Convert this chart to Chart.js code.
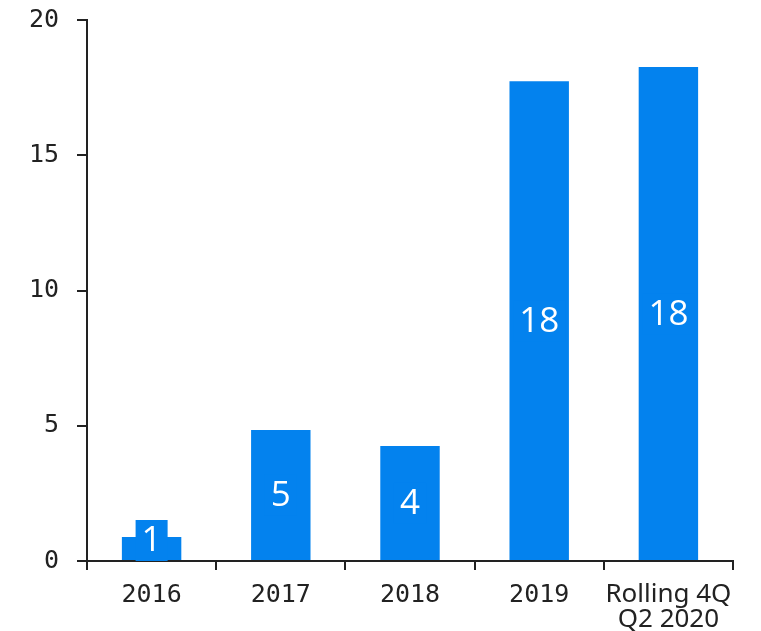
<!DOCTYPE html>
<html><head><meta charset="utf-8">
<script src="https://cdn.jsdelivr.net/npm/chart.js@4/dist/chart.umd.min.js"></script>
<style>html,body{margin:0;padding:0;background:#fff}#wrap{width:761px;height:631px}</style>
</head><body><div id="wrap"><canvas id="c" width="761" height="631"></canvas></div>
<script>
const categories = ["2016", "2017", "2018", "2019", ["Rolling 4Q", "Q2 2020"]];
const values = [0.89, 4.84, 4.25, 17.74, 18.26];
const yTicks = [0, 5, 10, 15, 20];

const BLUE = '#0382EE';
const INK = '#222222';
const MONO = '"DejaVu Sans Mono", monospace';

const labelPlugin = {
  id: 'barLabels',
  afterDatasetsDraw(chart) {
    const ctx = chart.ctx;
    const meta = chart.getDatasetMeta(0);
    const area = chart.chartArea;
    ctx.save();
    ctx.font = '35px "Open Sans", sans-serif';
    ctx.textAlign = 'center';
    ctx.textBaseline = 'middle';
    meta.data.forEach((bar, i) => {
      const txt = String(Math.round(values[i]));
      const w = ctx.measureText(txt).width + 12;
      const h = 41;
      let cy = (bar.y + bar.base) / 2;
      if (cy + h / 2 > area.bottom) cy = area.bottom - h / 2;
      ctx.fillStyle = BLUE;
      ctx.fillRect(bar.x - w / 2, cy - h / 2, w, h);
      ctx.fillStyle = '#ffffff';
      ctx.fillText(txt, bar.x, cy + 1);
    });
    ctx.restore();
  }
};

new Chart(document.getElementById('c'), {
  type: 'bar',
  data: {
    labels: categories,
    datasets: [{ data: values, backgroundColor: BLUE, borderWidth: 0,
      barPercentage: 0.46, categoryPercentage: 1 }]
  },
  options: {
    responsive: false,
    animation: false,
    layout: { padding: { top: 20, right: 28, left: 0, bottom: 0 } },
    plugins: { legend: { display: false }, tooltip: { enabled: false } },
    scales: {
      x: {
        grid: { display: true, drawOnChartArea: false, drawTicks: true, tickLength: 9,
          offset: true, color: INK, lineWidth: 2 },
        border: { display: true, color: INK, width: 2 },
        ticks: { color: INK,
          font: (c) => (c.index === 4
            ? { family: '"Noto Sans", sans-serif', size: 26, lineHeight: 0.97 }
            : { family: MONO, size: 25, lineHeight: 1.05 }),
          padding: 12, maxRotation: 0, autoSkip: false },
        afterFit(s) { s.height = 70; s.paddingLeft = 0; s.paddingRight = 0; }
      },
      y: {
        min: 0, max: 20,
        afterBuildTicks(s) { s.ticks = yTicks.map(v => ({ value: v })); },
        grid: { display: true, drawOnChartArea: false, drawTicks: true, tickLength: 10,
          color: INK, lineWidth: 2 },
        border: { display: true, color: INK, width: 2 },
        ticks: { color: INK, font: { family: MONO, size: 25 }, padding: 18 },
        afterFit(s) { s.width = 87; s.paddingTop = 0; s.paddingBottom = 0; }
      }
    }
  },
  plugins: [labelPlugin]
});
</script></body></html>
